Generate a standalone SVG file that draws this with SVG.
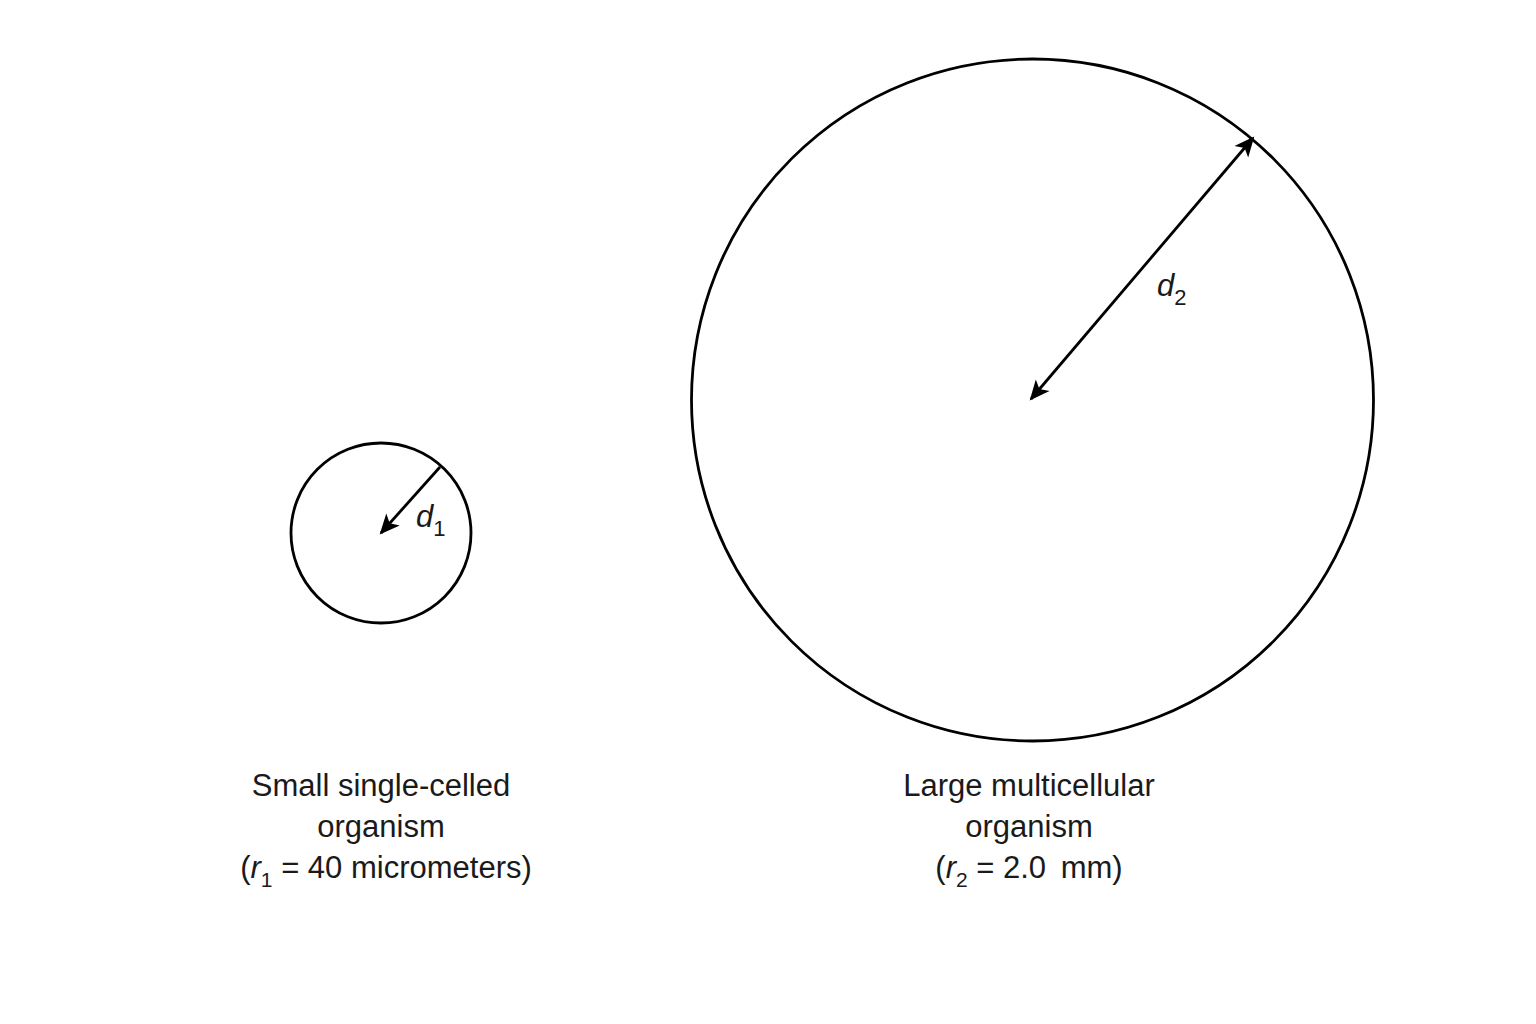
<svg xmlns="http://www.w3.org/2000/svg" width="1536" height="1024" viewBox="0 0 1536 1024">
<style>
.c{fill:none;stroke:#000;stroke-width:2.8}
.a{stroke:#000;stroke-width:2.8;fill:none}
.t{font-family:"Liberation Sans",Arial,sans-serif;font-size:31px;fill:#1a1a1a;text-anchor:middle}
.l{font-family:"Liberation Sans",Arial,sans-serif;font-size:31px;fill:#1a1a1a;font-style:italic}
.s{font-style:normal;font-size:22px}
</style>
<defs>
<marker id="ah" viewBox="0 0 10 10" refX="9" refY="5" markerWidth="22" markerHeight="20" markerUnits="userSpaceOnUse" orient="auto-start-reverse">
<path d="M0,0.5 L10,5 L0,9.5 L2.5,5 Z" fill="#000"/>
</marker>
</defs>
<rect width="1536" height="1024" fill="#fff"/>
<g id="small-cell">
<circle class="c" cx="381" cy="533" r="90"/>
<text class="l" x="416" y="527">d<tspan class="s" dy="9">1</tspan></text>
</g>
<g id="large-organism">
<circle class="c" cx="1032.5" cy="400" r="341"/>
<text class="l" x="1157" y="296">d<tspan class="s" dy="9">2</tspan></text>
</g>
<g id="connectors">
<line class="a" x1="440" y1="467" x2="381" y2="533" marker-end="url(#ah)"/>
<line class="a" x1="1253" y1="138" x2="1031" y2="399" marker-start="url(#ah)" marker-end="url(#ah)"/>
</g>
<g id="label-small">
<text class="t" x="381" y="796">Small single-celled</text>
<text class="t" x="381" y="837">organism</text>
<text class="t" x="386" y="878">(<tspan font-style="italic">r</tspan><tspan font-size="21" dy="9">1</tspan><tspan dy="-9"> = 40 micrometers)</tspan></text>
</g>
<g id="label-large">
<text class="t" x="1029" y="796">Large multicellular</text>
<text class="t" x="1029" y="837">organism</text>
<text class="t" x="1029" y="878">(<tspan font-style="italic">r</tspan><tspan font-size="21" dy="9">2</tspan><tspan dy="-9"> = 2.0 </tspan><tspan dx="6">mm)</tspan></text>
</g>
</svg>
